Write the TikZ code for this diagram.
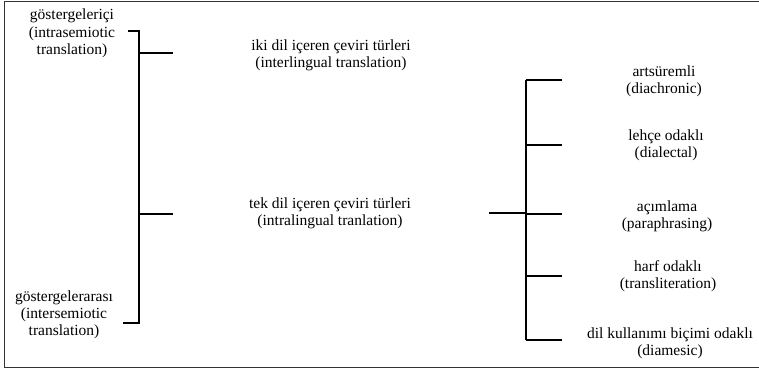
\documentclass[tikz,border=0pt]{standalone}
\usepackage{fontspec}
\setmainfont{Liberation Serif}
\begin{document}
\begin{tikzpicture}[x=1pt,y=-1pt,
  lbl/.style={align=center,font=\fontsize{15.5}{17}\selectfont,inner sep=0pt},
  spine/.style={line width=2pt},
  tick/.style={line width=1.4pt},
  frame/.style={line width=1.3pt,draw=black!80}]
\useasboundingbox (0,0) rectangle (759,371);
% outer frame (right side runs past the edge)
\draw[frame] (770,1.5) -- (4.5,1.5) -- (4.5,367.5) -- (770,367.5);

% left bracket
\coordinate (lt) at (139,31);
\coordinate (lb) at (139,323);
\coordinate (lta) at (128,31);
\coordinate (lba) at (123,323);
\coordinate (l1) at (139,53);
\coordinate (l1e) at (173,53);
\coordinate (l2) at (139,214);
\coordinate (l2e) at (173,214);
\draw[spine] (lta) -- (lt) -- (lb) -- (lba);
\draw[tick] (l1) -- (l1e);
\draw[tick] (l2) -- (l2e);

% right bracket
\coordinate (rt) at (526,80);
\coordinate (rb) at (526,340);
\coordinate (rs) at (489,213);
\coordinate (rm) at (526,213);
\draw[spine] (rt) -- (rb);
\draw[tick] (rs) -- (rm);
\foreach \y/\n in {80/a,145/b,214/c,276/d,340/e}{
  \coordinate (r\n) at (526,\y);
  \coordinate (r\n e) at (562,\y);
  \draw[tick] (r\n) -- (r\n e);
}

% labels
\node[lbl] (gi) at (72,16) {göstergeleriçi};
\node[lbl] (gie) at (72,42.5) {(intrasemiotic\\translation)};
\node[lbl] (gr) at (64,298) {göstergelerarası};
\node[lbl] (gre) at (64,323) {(intersemiotic\\translation)};
\node[lbl] (iki) at (331,55.5) {iki dil içeren çeviri türleri\\(interlingual translation)};
\node[lbl] (tek) at (330,213.5) {tek dil içeren çeviri türleri\\(intralingual tranlation)};
\node[lbl] (t1) at (664,81) {artsüremli\\(diachronic)};
\node[lbl] (t2) at (666,145.5) {lehçe odaklı\\(dialectal)};
\node[lbl] (t3) at (667,216.5) {açımlama\\(paraphrasing)};
\node[lbl] (t4) at (668,276.5) {harf odaklı\\(transliteration)};
\node[lbl] (t5) at (670,343) {dil kullanımı biçimi odaklı\\(diamesic)};
\end{tikzpicture}
\end{document}
